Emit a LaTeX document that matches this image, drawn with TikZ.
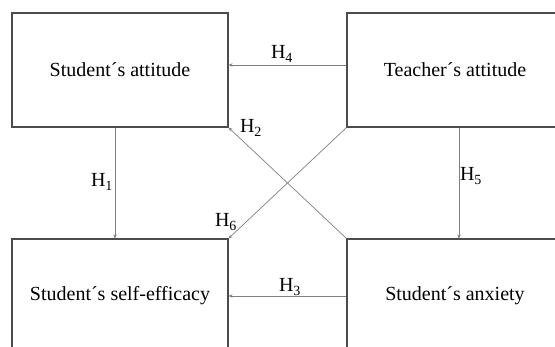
\documentclass[tikz,border=0pt]{standalone}
\usepackage{fontspec}
\setmainfont{Liberation Serif}
\usetikzlibrary{arrows.meta}
\begin{document}
\begin{tikzpicture}[x=1pt,y=-1pt,
  box/.style={draw=black!70,line width=1.1pt,minimum width=216pt,minimum height=114pt,inner sep=0pt,font=\fontsize{20}{24}\selectfont},
  arr/.style={draw=black!50,line width=0.7pt,-{Stealth[length=4pt,width=3.5pt]}},
  lab/.style={font=\fontsize{20}{24}\selectfont,inner sep=0pt}]
\useasboundingbox (0,0) rectangle (555,347);
\clip (0,0) rectangle (555,347);
\node[box] (sa) at (120,70) {Student´s attitude};
\node[box] (ta) at (455,70) {Teacher´s attitude};
\node[box] (se) at (120,296) {Student´s self-efficacy};
\node[box] (an) at (455,296) {Student´s anxiety};
\draw[arr] ([yshift=5pt]ta.west) -- ([yshift=5pt]sa.east);
\draw[arr] (an.west) -- (se.east);
\draw[arr] ([xshift=-5pt]sa.south) -- ([xshift=-5pt]se.north);
\draw[arr] ([xshift=4pt]ta.south) -- ([xshift=4pt]an.north);
\draw[arr] (an.north west) -- (sa.south east);
\draw[arr] (ta.south west) -- (se.north east);
\node[lab] (h4) at (282,54) {H\textsubscript{4}};
\node[lab] (h2) at (251,128) {H\textsubscript{2}};
\node[lab] (h1) at (102,182) {H\textsubscript{1}};
\node[lab] (h5) at (471,176) {H\textsubscript{5}};
\node[lab] (h6) at (226,222) {H\textsubscript{6}};
\node[lab] (h3) at (290,287) {H\textsubscript{3}};
\end{tikzpicture}
\end{document}
